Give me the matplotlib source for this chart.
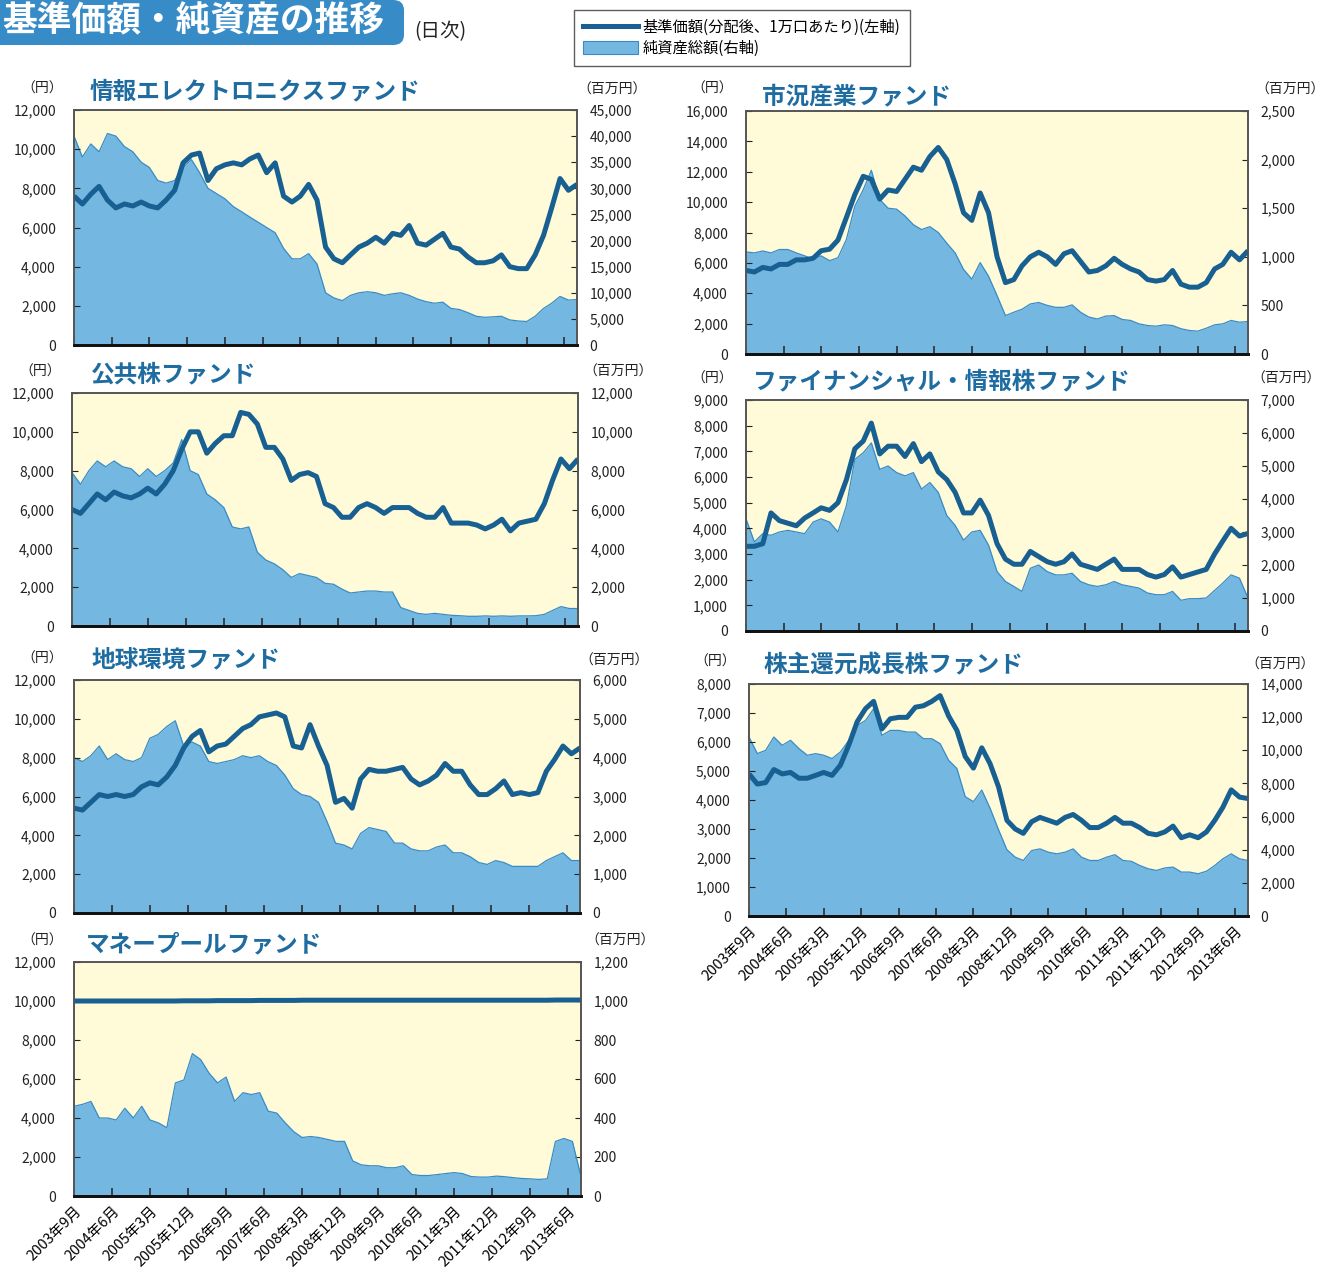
import numpy as np
import pandas as pd
import matplotlib
matplotlib.use('Agg')
import matplotlib.pyplot as plt
from matplotlib.lines import Line2D
from matplotlib.patches import Patch, FancyBboxPatch
from matplotlib.ticker import FuncFormatter

plt.rcParams['font.family'] = ['Noto Sans CJK JP', 'DejaVu Sans']

# ---------------- data ----------------
dates = pd.date_range('2003-09-01', periods=61, freq='2MS')
tick_dates = pd.date_range('2003-09-01', '2013-06-01', freq='9MS')
tick_labels = ['2003年9月', '2004年6月', '2005年3月', '2005年12月', '2006年9月',
               '2007年6月', '2008年3月', '2008年12月', '2009年9月', '2010年6月',
               '2011年3月', '2011年12月', '2012年9月', '2013年6月']

# 情報エレクトロニクスファンド
elec_nav = [7600, 7200, 7700, 8100, 7400, 7000, 7200, 7100, 7300, 7100,
            7000, 7400, 7900, 9300, 9700, 9800, 8400, 9000, 9200, 9300,
            9200, 9500, 9700, 8800, 9300, 7600, 7300, 7600, 8200, 7400,
            5000, 4400, 4200, 4600, 5000, 5200, 5500, 5200, 5700, 5600,
            6100, 5200, 5100, 5400, 5700, 5000, 4900, 4500, 4200, 4200,
            4300, 4600, 4000, 3900, 3900, 4600, 5600, 7000, 8500, 7900, 8200]
elec_aum = [40000, 36000, 38500, 37000, 40500, 40000, 38000, 37000, 35000, 34000,
            31500, 31000, 31500, 34000, 35500, 33000, 30000, 29000, 28000, 26500,
            25500, 24500, 23500, 22500, 21500, 18500, 16500, 16500, 17500, 15500,
            10000, 9000, 8500, 9500, 10000, 10200, 10000, 9500, 9800, 10000,
            9500, 8800, 8300, 8000, 8200, 7000, 6800, 6200, 5500, 5300,
            5400, 5500, 4800, 4600, 4500, 5500, 7000, 8000, 9300, 8600, 8700]

# 市況産業ファンド
mkt_nav = [5500, 5400, 5700, 5600, 5900, 5900, 6200, 6200, 6300, 6800,
           6900, 7500, 9000, 10500, 11700, 11500, 10200, 10800, 10700, 11500,
           12300, 12100, 13000, 13600, 12800, 11200, 9300, 8800, 10600, 9300,
           6400, 4700, 4900, 5800, 6400, 6700, 6400, 5900, 6600, 6800,
           6100, 5400, 5500, 5800, 6300, 5900, 5600, 5400, 4900, 4800,
           4900, 5500, 4600, 4400, 4400, 4700, 5600, 5900, 6700, 6200, 6800]
mkt_aum = [1050, 1040, 1060, 1040, 1075, 1075, 1040, 1010, 975, 1010,
           960, 990, 1180, 1520, 1690, 1890, 1590, 1500, 1490, 1420,
           1330, 1280, 1310, 1250, 1140, 1040, 870, 770, 940, 800,
           600, 395, 430, 460, 515, 530, 500, 480, 480, 505,
           430, 380, 360, 390, 395, 355, 345, 310, 293, 286,
           300, 293, 260, 242, 235, 265, 300, 310, 345, 327, 334]

# 公共株ファンド
pub_nav = [6000, 5800, 6300, 6800, 6500, 6900, 6700, 6600, 6800, 7100,
           6800, 7300, 8000, 9100, 10000, 10000, 8900, 9400, 9800, 9800,
           11000, 10900, 10400, 9200, 9200, 8600, 7500, 7800, 7900, 7700,
           6300, 6100, 5600, 5600, 6100, 6300, 6100, 5800, 6100, 6100,
           6100, 5800, 5600, 5600, 6100, 5300, 5300, 5300, 5200, 5000,
           5200, 5500, 4900, 5300, 5400, 5500, 6300, 7500, 8600, 8100, 8600]
pub_aum = [7900, 7300, 8000, 8500, 8200, 8500, 8200, 8100, 7700, 8100,
           7700, 8000, 8400, 9600, 8000, 7800, 6800, 6500, 6100, 5100,
           5000, 5100, 3800, 3400, 3200, 2900, 2500, 2700, 2600, 2500,
           2200, 2150, 1900, 1700, 1750, 1800, 1800, 1750, 1750, 950,
           800, 650, 600, 650, 600, 550, 530, 500, 500, 520,
           500, 520, 500, 520, 520, 530, 600, 800, 1000, 900, 900]

# ファイナンシャル・情報株ファンド
fin_nav = [3300, 3300, 3400, 4600, 4300, 4200, 4100, 4400, 4600, 4800,
           4700, 5000, 5900, 7100, 7400, 8100, 6900, 7200, 7200, 6800,
           7300, 6600, 6900, 6200, 5900, 5400, 4600, 4600, 5100, 4500,
           3400, 2800, 2600, 2600, 3100, 2900, 2700, 2600, 2700, 3000,
           2600, 2500, 2400, 2600, 2800, 2400, 2400, 2400, 2200, 2100,
           2200, 2500, 2100, 2200, 2300, 2400, 3000, 3500, 4000, 3700, 3800]
fin_aum = [3400, 2700, 2950, 2900, 3000, 3050, 3000, 2950, 3300, 3400,
           3300, 3000, 3800, 5200, 5400, 5700, 4900, 5000, 4800, 4700,
           4800, 4300, 4500, 4200, 3500, 3200, 2750, 3000, 3050, 2600,
           1800, 1500, 1350, 1200, 1900, 2000, 1800, 1700, 1700, 1750,
           1500, 1400, 1350, 1400, 1500, 1400, 1350, 1300, 1150, 1100,
           1100, 1200, 930, 980, 980, 1000, 1230, 1450, 1700, 1600, 1000]

# 地球環境ファンド
eco_nav = [5400, 5300, 5700, 6100, 6000, 6100, 6000, 6100, 6500, 6700,
           6600, 7000, 7600, 8500, 9100, 9400, 8300, 8600, 8700, 9100,
           9500, 9700, 10100, 10200, 10300, 10100, 8600, 8500, 9700, 8600,
           7600, 5700, 5900, 5400, 6900, 7400, 7300, 7300, 7400, 7500,
           6900, 6600, 6800, 7100, 7700, 7300, 7300, 6600, 6100, 6100,
           6400, 6800, 6100, 6200, 6100, 6200, 7300, 7900, 8600, 8200, 8500]
eco_aum = [4000, 3900, 4050, 4300, 3950, 4100, 3950, 3900, 4000, 4500,
           4600, 4800, 4950, 4300, 4400, 4300, 3900, 3850, 3900, 3950,
           4050, 4000, 4050, 3900, 3800, 3550, 3200, 3050, 3000, 2850,
           2350, 1800, 1750, 1650, 2050, 2200, 2150, 2100, 1800, 1800,
           1650, 1600, 1600, 1700, 1750, 1550, 1550, 1450, 1300, 1250,
           1350, 1300, 1200, 1200, 1200, 1200, 1350, 1450, 1550, 1350, 1350]

# 株主還元成長株ファンド
shr_nav = [4900, 4550, 4600, 5050, 4900, 4950, 4750, 4750, 4850, 4950,
           4850, 5200, 5900, 6700, 7150, 7400, 6450, 6800, 6850, 6850,
           7200, 7250, 7400, 7600, 6900, 6400, 5500, 5100, 5800, 5250,
           4450, 3300, 3000, 2850, 3250, 3400, 3300, 3200, 3400, 3500,
           3300, 3050, 3050, 3200, 3400, 3200, 3200, 3050, 2850, 2800,
           2900, 3100, 2700, 2800, 2700, 2900, 3300, 3750, 4350, 4100, 4050]
shr_aum = [10800, 9800, 10000, 10800, 10300, 10600, 10100, 9700, 9800, 9700,
           9500, 9900, 10600, 11500, 11800, 12500, 10900, 11200, 11200, 11100,
           11100, 10700, 10700, 10400, 9400, 8900, 7200, 6900, 7600, 6500,
           5200, 4000, 3550, 3350, 3950, 4050, 3850, 3750, 3850, 4050,
           3550, 3350, 3350, 3550, 3700, 3350, 3300, 3050, 2850, 2750,
           2900, 2950, 2650, 2650, 2550, 2700, 3050, 3450, 3750, 3450, 3350]

# マネープールファンド
mp_nav = [10000, 10000, 10000, 10000, 10000, 10000, 10000, 10000, 10000, 10000,
          10000, 10000, 10000, 10010, 10010, 10010, 10010, 10020, 10020, 10020,
          10020, 10020, 10030, 10030, 10030, 10030, 10030, 10040, 10040, 10040,
          10040, 10040, 10040, 10040, 10040, 10040, 10040, 10040, 10040, 10040,
          10040, 10040, 10040, 10040, 10040, 10040, 10040, 10040, 10040, 10040,
          10040, 10040, 10040, 10040, 10040, 10040, 10040, 10050, 10050, 10050, 10050]
mp_aum = [460, 470, 485, 400, 400, 390, 450, 400, 460, 390,
          375, 350, 580, 595, 730, 700, 630, 580, 610, 485,
          530, 520, 530, 435, 425, 375, 330, 300, 305, 300,
          290, 280, 280, 180, 160, 155, 155, 145, 145, 155,
          110, 105, 105, 110, 115, 120, 115, 100, 97, 97,
          102, 99, 94, 90, 88, 85, 88, 280, 295, 280, 100]

# ---------------- style ----------------
W, H = 1333, 1276
BG = '#FFFAD7'
AREA = '#74B7E1'
AREA_EDGE = '#378CC8'
LINE = '#176091'
TITLE_C = '#1F6CA0'


def fx(x):
    return x / W


def fy(y):
    return 1 - y / H


fmt = FuncFormatter(lambda v, p: f'{int(round(v)):,}')

panels = [
    dict(title='情報エレクトロニクスファンド', nav=elec_nav, aum=elec_aum,
         box=(74, 110, 577, 345), lmax=12000, lstep=2000, rmax=45000, rstep=5000,
         tpos=(90, 91), yen=(42, 89), mil=(612, 90), xl=False),
    dict(title='市況産業ファンド', nav=mkt_nav, aum=mkt_aum,
         box=(746, 111, 1248, 354), lmax=16000, lstep=2000, rmax=2500, rstep=500,
         tpos=(762, 96), yen=(712, 89), mil=(1290, 90), xl=False),
    dict(title='公共株ファンド', nav=pub_nav, aum=pub_aum,
         box=(72, 393, 578, 626), lmax=12000, lstep=2000, rmax=12000, rstep=2000,
         tpos=(91, 374), yen=(40, 372), mil=(618, 372), xl=False),
    dict(title='ファイナンシャル・情報株ファンド', nav=fin_nav, aum=fin_aum,
         box=(746, 400, 1248, 631), lmax=9000, lstep=1000, rmax=7000, rstep=1000,
         tpos=(753, 381), yen=(712, 379), mil=(1286, 379), xl=False),
    dict(title='地球環境ファンド', nav=eco_nav, aum=eco_aum,
         box=(74, 680, 580, 913), lmax=12000, lstep=2000, rmax=6000, rstep=1000,
         tpos=(91, 659), yen=(42, 659), mil=(614, 661), xl=False),
    dict(title='株主還元成長株ファンド', nav=shr_nav, aum=shr_aum,
         box=(749, 684, 1248, 916), lmax=8000, lstep=1000, rmax=14000, rstep=2000,
         tpos=(764, 665), yen=(715, 662), mil=(1280, 665), xl=True),
    dict(title='マネープールファンド', nav=mp_nav, aum=mp_aum,
         box=(74, 962, 581, 1196), lmax=12000, lstep=2000, rmax=1200, rstep=200,
         tpos=(86, 944), yen=(42, 941), mil=(620, 941), xl=True),
]

fig = plt.figure(figsize=(W / 100, H / 100), dpi=100)
fig.patch.set_facecolor('white')

for p in panels:
    x0, y0, x1, y1 = p['box']
    rect = [fx(x0), fy(y1), (x1 - x0) / W, (y1 - y0) / H]
    ax2 = fig.add_axes(rect)              # area (right axis)
    ax = fig.add_axes(rect, sharex=ax2)   # line (left axis)
    ax.set_zorder(ax2.get_zorder() + 1)
    ax.patch.set_visible(False)
    ax2.set_facecolor(BG)

    ax2.fill_between(dates, p['aum'], 0, color=AREA, lw=0)
    ax2.plot(dates, p['aum'], color=AREA_EDGE, lw=0.9)
    ax.plot(dates, p['nav'], color=LINE, lw=3.6, solid_joinstyle='round',
            solid_capstyle='butt')

    ax2.set_xlim(dates[0], dates[-1])
    ax.set_ylim(0, p['lmax'])
    ax2.set_ylim(0, p['rmax'])
    ax.set_yticks(np.arange(0, p['lmax'] + 1, p['lstep']))
    ax2.set_yticks(np.arange(0, p['rmax'] + 1, p['rstep']))
    ax.yaxis.set_major_formatter(fmt)
    ax2.yaxis.set_major_formatter(fmt)
    ax.yaxis.tick_left()
    ax2.yaxis.tick_right()

    ax.tick_params(axis='y', direction='in', length=4, pad=13, labelsize=10,
                   colors='#222222')
    ax2.tick_params(axis='y', direction='in', length=4, pad=9, labelsize=10,
                    colors='#222222')
    ax2.set_xticks(tick_dates)
    ax2.tick_params(axis='x', direction='in', length=6, width=1.1, color='#222222')
    ax.tick_params(axis='x', which='both', bottom=False, labelbottom=False)
    if p['xl']:
        ax2.set_xticklabels(tick_labels, rotation=45, ha='right',
                            rotation_mode='anchor', fontsize=10.5)
        ax2.tick_params(axis='x', pad=6)
    else:
        ax2.set_xticklabels([])

    for a in (ax, ax2):
        for s in ('top', 'right', 'left'):
            a.spines[s].set_color('#555555')
            a.spines[s].set_linewidth(1.2)
        a.spines['bottom'].set_color('#111111')
        a.spines['bottom'].set_linewidth(2.0)

    fig.text(fx(p['tpos'][0]), fy(p['tpos'][1]), p['title'], color=TITLE_C,
             fontsize=17, fontweight='bold', ha='left', va='center')
    fig.text(fx(p['yen'][0]), fy(p['yen'][1]), '（円）', fontsize=10,
             ha='center', va='center', color='#222222')
    fig.text(fx(p['mil'][0]), fy(p['mil'][1]), '（百万円）', fontsize=10,
             ha='center', va='center', color='#222222')

# header banner
banner = FancyBboxPatch((fx(-30), fy(45)), fx(434), 45 / H,
                        boxstyle='round,pad=0,rounding_size=0.008',
                        transform=fig.transFigure, facecolor='#378CC7',
                        edgecolor='none', zorder=5)
fig.patches.append(banner)
fig.text(fx(2), fy(21), '基準価額・純資産の推移', color='white', fontsize=25,
         fontweight='bold', ha='left', va='center', zorder=6)
fig.text(fx(414), fy(32), '(日次)', color='#222222', fontsize=14,
         ha='left', va='center')

handles = [Line2D([0], [0], color=LINE, lw=3.6),
           Patch(facecolor=AREA, edgecolor=AREA_EDGE, lw=0.8)]
labels = ['基準価額(分配後、1万口あたり)(左軸)', '純資産総額(右軸)']
leg = fig.legend(handles, labels, loc='upper left',
                 bbox_to_anchor=(fx(574), fy(10)), frameon=True, fancybox=False,
                 fontsize=11, handlelength=3.6, handleheight=0.9,
                 borderpad=0.6, labelspacing=0.25, handletextpad=0.3,
                 borderaxespad=0)
leg.get_frame().set_edgecolor('#333333')
leg.get_frame().set_linewidth(1.0)
leg._legend_box.align = 'left'

fig.savefig('out.png', dpi=100, facecolor='white')
